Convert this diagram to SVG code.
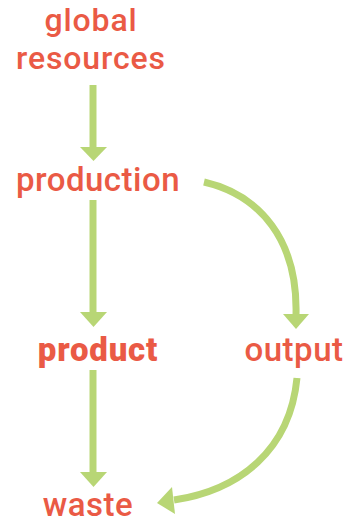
<svg xmlns="http://www.w3.org/2000/svg" width="350" height="525" viewBox="0 0 350 525">
<defs>
<style>
text{font-family:Roboto,"Liberation Sans",sans-serif;font-size:33px;font-weight:500;letter-spacing:0.5px;fill:#EA5A45;text-anchor:middle}
.t{font-size:32px;letter-spacing:0.9px}
.b{font-weight:900;letter-spacing:0.8px}
.c{fill:none;stroke:#B8D675;stroke-width:7}
.h{fill:#B8D675}
</style>
</defs>
<rect width="350" height="525" fill="#fff"/>
<g id="connectors">
<path class="c" d="M93 85V148"/><path class="h" d="M80 147H107L93.5 161Z"/>
<path class="c" d="M93 200V313"/><path class="h" d="M80 312H107L93.5 327Z"/>
<path class="c" d="M93 370V472"/><path class="h" d="M80 472H107L93.5 487Z"/>
<path class="c" d="M204 182C260 195 298 240 296 315"/><path class="h" d="M283 314H309L296 329Z"/>
<path class="c" d="M297 378C290 450 240 490 174 500"/><path class="h" d="M172 487L175 514L157 503Z"/>
</g>
<g id="global-resources"><text class="t" x="91" y="31">global</text><text class="t" x="91" y="69">resources</text></g>
<g id="production"><text x="98" y="191">production</text></g>
<g id="product"><text class="b" x="98" y="361">product</text></g>
<g id="output"><text x="294" y="361">output</text></g>
<g id="waste"><text x="88" y="516">waste</text></g>
</svg>
